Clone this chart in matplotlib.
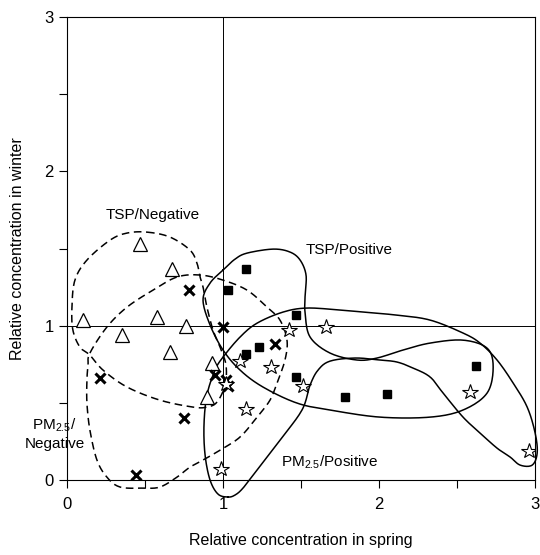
import numpy as np
import matplotlib
matplotlib.use("Agg")
import matplotlib.pyplot as plt

plt.rcParams['font.family'] = ['Liberation Sans', 'DejaVu Sans']
plt.rcParams['mathtext.default'] = 'regular'

# TSP / Negative (open triangles)
tsp_neg_x = [0.47, 0.67, 0.10, 0.58, 0.76, 0.35, 0.66, 0.93, 0.90]
tsp_neg_y = [1.53, 1.37, 1.04, 1.06, 1.00, 0.94, 0.83, 0.76, 0.54]

# PM2.5 / Negative (crosses)
pm_neg_x = [0.78, 1.00, 0.21, 0.95, 1.02, 1.03, 0.75, 0.44, 1.33]
pm_neg_y = [1.23, 0.99, 0.66, 0.68, 0.65, 0.61, 0.40, 0.03, 0.88]

# TSP / Positive (filled squares)
tsp_pos_x = [1.15, 1.03, 1.47, 1.15, 1.23, 1.47, 1.78, 2.05, 2.62]
tsp_pos_y = [1.37, 1.23, 1.07, 0.82, 0.86, 0.67, 0.54, 0.56, 0.74]

# PM2.5 / Positive (open stars)
pm_pos_x = [1.11, 1.15, 0.99, 1.02, 1.42, 1.66, 1.31, 1.51, 2.58, 2.96]
pm_pos_y = [0.77, 0.46, 0.07, 0.62, 0.97, 0.99, 0.73, 0.61, 0.57, 0.19]

# hand drawn group outlines (data coords)
tsp_neg_outline = [(0.513, 1.607), (0.660, 1.575), (0.788, 1.491), (0.833, 1.406), (0.853, 1.316),
                   (0.872, 1.251), (0.897, 1.121), (0.936, 0.972), (0.981, 0.862), (1.019, 0.745),
                   (1.013, 0.616), (0.962, 0.506), (0.897, 0.473), (0.808, 0.473), (0.596, 0.518),
                   (0.385, 0.603), (0.231, 0.713), (0.147, 0.810), (0.083, 0.862), (0.038, 0.972),
                   (0.032, 1.121), (0.051, 1.296), (0.128, 1.426), (0.276, 1.555), (0.385, 1.601)]

pm_neg_outline = [(0.147, 0.823), (0.256, 0.992), (0.385, 1.121), (0.551, 1.231), (0.705, 1.316),
                  (0.853, 1.329), (1.000, 1.296), (1.154, 1.231), (1.282, 1.121), (1.365, 1.037),
                  (1.410, 0.907), (1.397, 0.778), (1.346, 0.629), (1.301, 0.518), (1.218, 0.408),
                  (1.109, 0.279), (0.981, 0.194), (0.872, 0.130), (0.788, 0.084), (0.705, 0.019),
                  (0.596, -0.045), (0.487, -0.052), (0.340, -0.045), (0.256, 0.019), (0.192, 0.130),
                  (0.147, 0.324), (0.128, 0.499), (0.128, 0.648), (0.135, 0.745)]

tsp_pos_outline = [(1.000, 1.361), (1.077, 1.432), (1.154, 1.471), (1.321, 1.497), (1.429, 1.478),
                   (1.494, 1.426), (1.532, 1.329), (1.526, 1.199), (1.526, 1.082), (1.558, 0.927),
                   (1.686, 0.823), (1.859, 0.778), (1.987, 0.791), (2.154, 0.843), (2.327, 0.888),
                   (2.538, 0.907), (2.692, 0.855), (2.731, 0.732), (2.692, 0.564), (2.538, 0.454),
                   (2.327, 0.408), (2.006, 0.408), (1.686, 0.454), (1.474, 0.499), (1.256, 0.603),
                   (1.109, 0.713), (1.000, 0.843), (0.917, 1.005), (0.872, 1.167), (0.917, 1.277)]

pm_pos_outline = [(1.032, -0.110), (0.968, -0.091), (0.917, 0.000), (0.885, 0.162), (0.878, 0.356),
                  (0.897, 0.551), (0.949, 0.713), (1.000, 0.797), (1.109, 0.927), (1.218, 1.017),
                  (1.385, 1.089), (1.538, 1.115), (1.750, 1.102), (1.897, 1.089), (2.115, 1.069),
                  (2.327, 1.037), (2.538, 0.953), (2.647, 0.888), (2.756, 0.778), (2.859, 0.629),
                  (2.949, 0.473), (3.000, 0.305), (3.013, 0.175), (2.981, 0.097), (2.904, 0.097),
                  (2.840, 0.149), (2.756, 0.207), (2.647, 0.305), (2.538, 0.408), (2.410, 0.564),
                  (2.327, 0.668), (2.218, 0.726), (2.115, 0.765), (2.006, 0.778), (1.846, 0.791),
                  (1.686, 0.771), (1.609, 0.713), (1.558, 0.616), (1.506, 0.454), (1.365, 0.259),
                  (1.218, 0.065), (1.128, -0.052), (1.077, -0.097)]


def smooth_closed(pts, n=12):
    # closed Catmull-Rom through the outline vertices
    p = np.array(pts)
    m = len(p)
    out = []
    t = np.linspace(0, 1, n, endpoint=False)[:, None]
    for i in range(m):
        p0, p1, p2, p3 = p[(i - 1) % m], p[i], p[(i + 1) % m], p[(i + 2) % m]
        seg = 0.5 * ((2 * p1) + (-p0 + p2) * t + (2 * p0 - 5 * p1 + 4 * p2 - p3) * t ** 2
                     + (-p0 + 3 * p1 - 3 * p2 + p3) * t ** 3)
        out.append(seg)
    out = np.vstack(out)
    return np.vstack([out, out[:1]])


fig = plt.figure(figsize=(5.4, 5.55), dpi=100)
ax = fig.add_axes([0.124, 0.135, 0.867, 0.834])

ax.axvline(1, color='black', lw=0.7, zorder=1)
ax.axhline(1, color='black', lw=0.7, zorder=1)

for outline, ls in [(tsp_neg_outline, (0, (5, 3))), (pm_neg_outline, (0, (5, 3))),
                    (tsp_pos_outline, '-'), (pm_pos_outline, '-')]:
    c = smooth_closed(outline)
    ax.plot(c[:, 0], c[:, 1], color='black', lw=1.1, linestyle=ls, clip_on=False, zorder=2)

ax.plot(tsp_neg_x, tsp_neg_y, linestyle='none', marker='^', ms=9.5, mfc='white', mec='black',
        mew=0.9, zorder=3)
ax.plot(pm_neg_x, pm_neg_y, linestyle='none', marker='x', ms=7, mec='black', mew=2.2, zorder=3)
ax.plot(tsp_pos_x, tsp_pos_y, linestyle='none', marker='s', ms=5.5, mfc='black', mec='black', zorder=3)
ax.plot(pm_pos_x, pm_pos_y, linestyle='none', marker='*', ms=11.5, mfc='white', mec='black',
        mew=0.8, zorder=3)

ax.text(0.55, 1.72, 'TSP/Negative', fontsize=11, ha='center', va='center')
ax.text(1.53, 1.49, 'TSP/Positive', fontsize=11, ha='left', va='center')
ax.text(1.37, 0.115, r'PM$_{2.5}$/Positive', fontsize=11, ha='left', va='center')
ax.text(-0.08, 0.30, 'PM$_{2.5}$/\nNegative', fontsize=11, ha='center', va='center',
        multialignment='center', linespacing=1.25, clip_on=False)

ax.set_xlim(0, 3)
ax.set_ylim(0, 3)
ax.set_xticks([0, 1, 2, 3])
ax.set_yticks([0, 1, 2, 3])
ax.set_xticks([0.5, 1.5, 2.5], minor=True)
ax.set_yticks([0.5, 1.5, 2.5], minor=True)
ax.tick_params(which='both', direction='out', length=6, width=0.8, labelsize=12)
ax.tick_params(axis='x', pad=6)
for s in ax.spines.values():
    s.set_linewidth(0.8)

ax.set_xlabel('Relative concentration in spring', fontsize=11.5, labelpad=15)
ax.set_ylabel('Relative concentration in winter', fontsize=11.5, labelpad=14)

fig.savefig('out.png', dpi=100)
